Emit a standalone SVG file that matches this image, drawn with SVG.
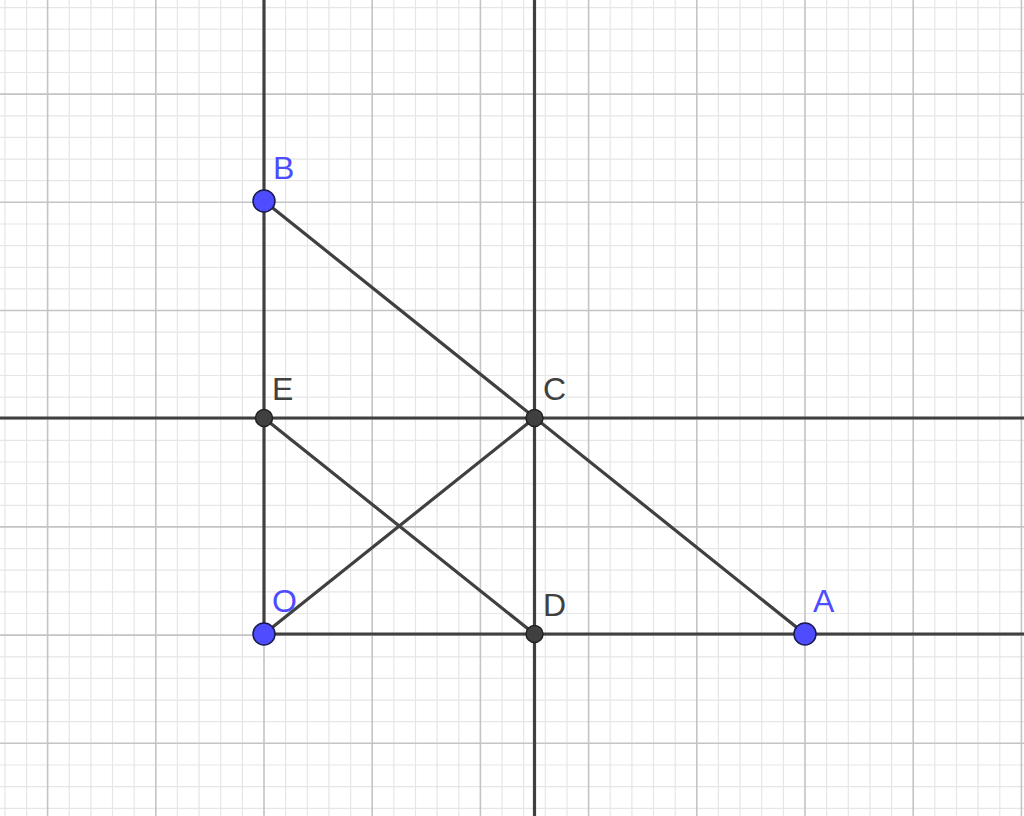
<svg xmlns="http://www.w3.org/2000/svg" width="1024" height="816" viewBox="0 0 1024 816">
<defs>
<style>
.minor{stroke:#e6e6e6;stroke-width:1.2}
.major{stroke:#c4c4c4;stroke-width:1.6}
.ln{stroke:#404040;stroke-width:3.2;fill:none;stroke-linecap:round}
.bp{fill:#4d4dff;stroke:#1a1a4d;stroke-width:1.5}
.dp{fill:#404040;stroke:#222;stroke-width:1.5}
.bl{font-family:"Liberation Sans",Arial,sans-serif;font-size:32px;fill:#4d4dff}
.dl{font-family:"Liberation Sans",Arial,sans-serif;font-size:32px;fill:#404040}
</style>
</defs>
<rect width="1024" height="816" fill="#ffffff"/>
<g id="grid-minor">
<path class="minor" d="M4.9 0V816M26.6 0V816M69.3 0V816M90.9 0V816M112.5 0V816M134.2 0V816M177.4 0V816M199.1 0V816M220.7 0V816M242.4 0V816M285.6 0V816M307.3 0V816M328.9 0V816M350.6 0V816M393.8 0V816M415.5 0V816M437.1 0V816M458.8 0V816M502 0V816M523.7 0V816M545.3 0V816M567 0V816M610.2 0V816M631.9 0V816M653.5 0V816M675.2 0V816M718.4 0V816M740.1 0V816M761.7 0V816M783.4 0V816M826.6 0V816M848.3 0V816M869.9 0V816M891.6 0V816M934.8 0V816M956.5 0V816M978.1 0V816M999.8 0V816"/>
<path class="minor" d="M0 7.6H1024M0 29.2H1024M0 50.9H1024M0 72.5H1024M0 115.8H1024M0 137.4H1024M0 159.1H1024M0 180.7H1024M0 224H1024M0 245.6H1024M0 267.3H1024M0 288.9H1024M0 332.2H1024M0 353.8H1024M0 375.5H1024M0 397.1H1024M0 440.4H1024M0 462H1024M0 483.7H1024M0 505.3H1024M0 548.6H1024M0 570.2H1024M0 591.9H1024M0 613.5H1024M0 656.8H1024M0 678.4H1024M0 700.1H1024M0 721.7H1024M0 765H1024M0 786.6H1024M0 808.3H1024"/>
</g>
<g id="grid-major">
<path class="major" d="M47.6 0V816M155.8 0V816M264 0V816M372.2 0V816M480.4 0V816M588.6 0V816M696.8 0V816M805 0V816M913.2 0V816M1021.4 0V816"/>
<path class="major" d="M0 94.1H1024M0 202.3H1024M0 310.5H1024M0 418.7H1024M0 526.9H1024M0 635.1H1024M0 743.3H1024"/>
</g>
<g id="connectors">
<line class="ln" x1="264" y1="0" x2="264" y2="634"/>
<line class="ln" x1="264" y1="634" x2="1024" y2="634"/>
<line class="ln" x1="0" y1="418" x2="1024" y2="418"/>
<line class="ln" x1="534.5" y1="0" x2="534.5" y2="816"/>
<line class="ln" x1="264" y1="201" x2="805" y2="634"/>
<line class="ln" x1="264" y1="634" x2="534.5" y2="418"/>
<line class="ln" x1="264" y1="418" x2="534.5" y2="634"/>
</g>
<g id="node-E"><circle class="dp" cx="264" cy="418" r="8.5"/><text class="dl" x="272" y="400">E</text></g>
<g id="node-C"><circle class="dp" cx="534.5" cy="418" r="8.5"/><text class="dl" x="543" y="400">C</text></g>
<g id="node-D"><circle class="dp" cx="534.5" cy="634" r="8.5"/><text class="dl" x="543" y="616">D</text></g>
<g id="node-B"><circle class="bp" cx="264" cy="201" r="11"/><text class="bl" x="273" y="179">B</text></g>
<g id="node-O"><circle class="bp" cx="264" cy="634" r="11"/><text class="bl" x="272" y="612">O</text></g>
<g id="node-A"><circle class="bp" cx="805" cy="634" r="11"/><text class="bl" x="813" y="612">A</text></g>
</svg>
